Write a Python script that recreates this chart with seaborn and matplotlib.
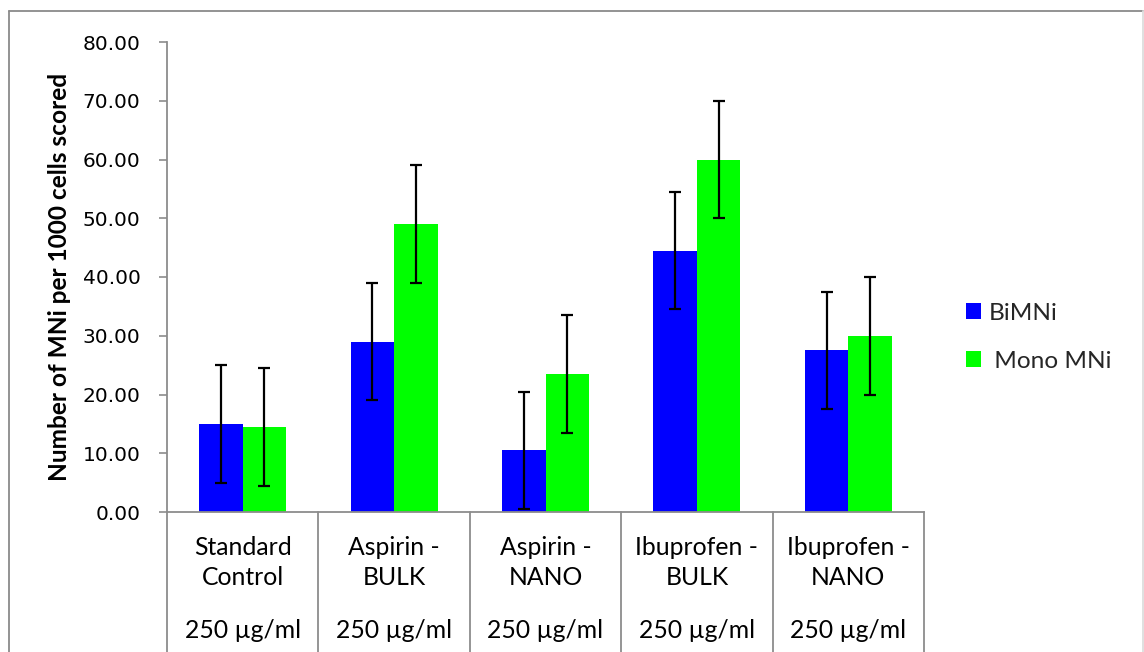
import numpy as np
import pandas as pd
import matplotlib
matplotlib.use("Agg")
import matplotlib.pyplot as plt
from matplotlib.lines import Line2D
from matplotlib.patches import Patch
import seaborn as sns

# Treatments, concentration and micronucleus counts
groups = ["Standard\nControl", "Aspirin -\nBULK", "Aspirin -\nNANO",
          "Ibuprofen -\nBULK", "Ibuprofen -\nNANO"]
dose = ["250 µg/ml"] * 5
series = ["BiMNi", " Mono MNi"]
bimni = [15.0, 29.0, 10.5, 44.5, 27.5]
mono_mni = [14.5, 49.0, 23.5, 60.0, 30.0]
bimni_err = [10, 10, 10, 10, 10]
mono_err = [10, 10, 10, 10, 10]
yticks = [0, 10, 20, 30, 40, 50, 60, 70, 80]

colors = ["#0000FF", "#00FF00"]
grey = "#8C8C8C"

df = pd.DataFrame({
    "group": groups * 2,
    "series": [series[0]] * 5 + [series[1]] * 5,
    "value": bimni + mono_mni,
})

sns.set_theme(style="white")
plt.rcParams["font.family"] = ["Lato", "DejaVu Sans"]

W, H = 1144, 652
fig = plt.figure(figsize=(W / 100, H / 100), dpi=100)
ax = fig.add_axes([167 / W, 1 - 512 / H, (924 - 167) / W, (512 - 42) / H])

sns.barplot(data=df, x="group", y="value", hue="series", palette=colors,
            width=0.575, gap=0, errorbar=None, saturation=1,
            linewidth=0, ax=ax)

# error bars at the bar centres
for cont, vals, errs in zip(ax.containers, [bimni, mono_mni], [bimni_err, mono_err]):
    xs = [p.get_x() + p.get_width() / 2 for p in cont]
    ax.errorbar(xs, vals, yerr=errs, fmt="none", ecolor="black",
                elinewidth=1.6, capsize=4.2, capthick=1.6, zorder=5)

ax.set_xlim(-0.5, len(groups) - 0.5)
ax.set_ylim(0, 80)
ax.set_yticks(yticks)
ax.set_yticklabels([f"{v:.2f}" for v in yticks], family="DejaVu Sans",
                   fontsize=14.5, color="black")
ax.tick_params(axis="y", direction="out", length=6, width=1.2, color=grey,
               left=True, pad=13)
ax.set_xticks([])
ax.set_xlabel("")
ax.set_ylabel("Number of MNi per 1000 cells scored", fontsize=17.6,
              fontweight="bold", color="black")
ax.yaxis.set_label_coords(-0.127, 0.5)

for s in ["top", "right"]:
    ax.spines[s].set_visible(False)
for s in ["left", "bottom"]:
    ax.spines[s].set_color(grey)
    ax.spines[s].set_linewidth(1.3)

# two-level category axis: dividers and labels below the plot
trans = ax.get_xaxis_transform()
bottom_y = -(H - 512) / (512 - 42) - 0.05
for b in np.arange(-0.5, len(groups), 1.0):
    ax.add_line(Line2D([b, b], [0, bottom_y], transform=trans, color=grey,
                       lw=1.3, clip_on=False))
px = 1 / (512 - 42)
for i, (g, d) in enumerate(zip(groups, dose)):
    ax.text(i, -(562.5 - 512) * px, g, transform=trans, ha="center",
            va="center", fontsize=17.8, linespacing=1.32, color="black")
    ax.text(i, -(631 - 512) * px, d, transform=trans, ha="center",
            va="center", fontsize=17.8, color="black")

if ax.get_legend() is not None:
    ax.get_legend().remove()
handles = [Patch(facecolor=c, edgecolor="none") for c in colors]
fig.legend(handles, series, loc="upper left",
           bbox_to_anchor=(966 / W, 1 - 303 / H), frameon=False,
           fontsize=17.6, handlelength=0.62, handleheight=0.62,
           handletextpad=0.3, labelspacing=1.1, borderaxespad=0,
           borderpad=0)

# chart frame
fig.add_artist(Line2D([9 / W, 9 / W], [0, 1 - 11 / H], color="#8A8A8A", lw=1.3))
fig.add_artist(Line2D([9 / W, 1143 / W], [1 - 11 / H, 1 - 11 / H], color="#8A8A8A", lw=1.3))
fig.add_artist(Line2D([1143 / W, 1143 / W], [0, 1 - 11 / H], color="#DDDDDD", lw=1.3))

fig.savefig("out.png", dpi=100, facecolor="white")
